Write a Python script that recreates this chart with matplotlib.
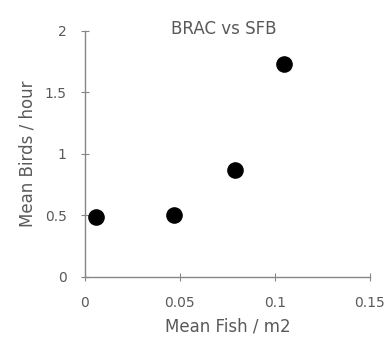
import matplotlib
matplotlib.use("Agg")
import matplotlib.pyplot as plt

fish = [0.006, 0.047, 0.079, 0.105]
birds = [0.49, 0.505, 0.87, 1.73]
xticks = [0, 0.05, 0.1, 0.15]
xticklabels = ["0", "0.05", "0.1", "0.15"]
yticks = [0, 0.5, 1, 1.5, 2]
yticklabels = ["0", "0.5", "1", "1.5", "2"]

plt.rcParams['font.family'] = ['DejaVu Sans']
txt = '#595959'
axc = '#868686'

fig = plt.figure(figsize=(3.91, 3.51), dpi=100)
ax = fig.add_axes([0.217, 0.211, 0.729, 0.701])
ax.scatter(fish, birds, s=120, color='black', zorder=3, clip_on=False)
ax.set_xlim(0, 0.15)
ax.set_ylim(0, 2)
ax.set_xticks(xticks)
ax.set_xticklabels(xticklabels)
ax.set_yticks(yticks)
ax.set_yticklabels(yticklabels)
for s in ['top', 'right']:
    ax.spines[s].set_visible(False)
for s in ['left', 'bottom']:
    ax.spines[s].set_color(axc)
    ax.spines[s].set_linewidth(1)
ax.tick_params(direction='inout', length=6, color=axc, labelcolor=txt, labelsize=10)
ax.tick_params(axis='x', pad=11)
ax.tick_params(axis='y', pad=10)
ax.set_xlabel('Mean Fish / m2', color=txt, fontsize=12, labelpad=5)
ax.set_ylabel('Mean Birds / hour', color=txt, fontsize=12, labelpad=6)
fig.text(0.573, 0.918, 'BRAC vs SFB', color=txt, fontsize=12, ha='center', va='center')
fig.savefig('out.png', dpi=100)
